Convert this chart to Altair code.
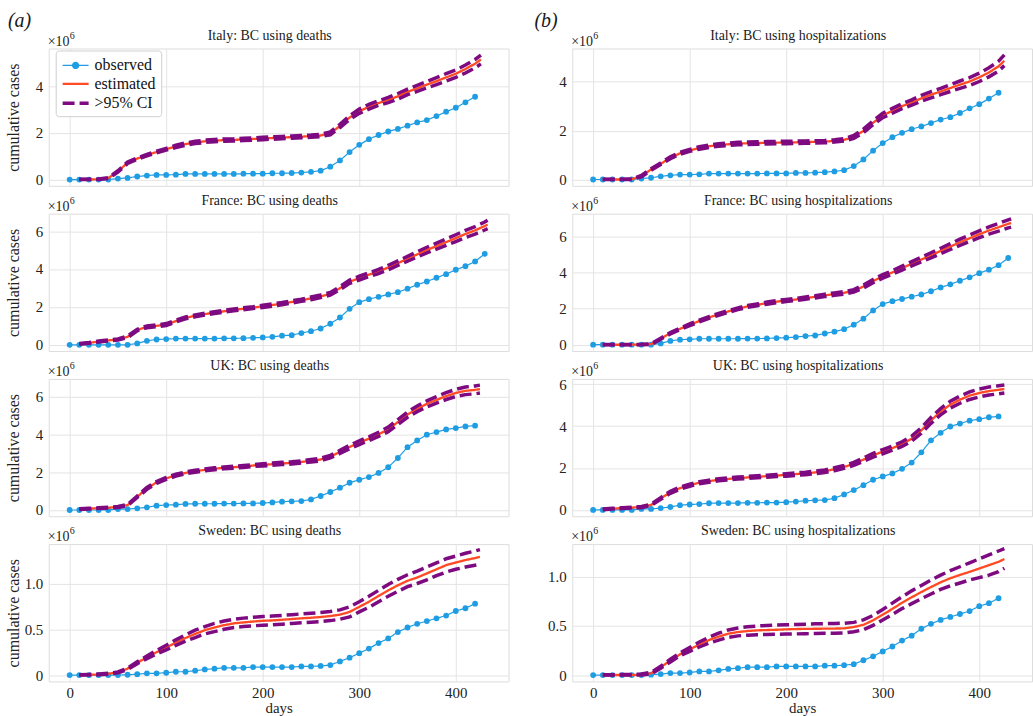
import altair as alt
import pandas as pd

SERIF = "Liberation Serif"
SERIES = ["observed", "estimated", ">95% CI"]
COLORS = ["#1f9de3", "#ff4a24", "#7d0a80"]
DASHES = [[1, 0], [1, 0], [12, 5]]
WIDTHS = [1.2, 3.5, 3.5]
# legend glyphs (unit box scaled by half the symbol width): thin line with a dot, plain strokes
DOT_PATH = "M-1.45,0H1.45M0.34,0A0.34,0.34,0,1,1,-0.34,0A0.34,0.34,0,1,1,0.34,0Z"
LINE_PATH = "M-1.45,0H1.45"
SHAPES = [DOT_PATH, LINE_PATH, LINE_PATH]
X_DOMAIN = [-21.65, 454.65]
X_TICKS = [0, 100, 200, 300, 400]

# Observed cumulative cases (millions), one value every 10 days from day 0
italy_observed = [0.00, 0.00, 0.00, 0.00, 0.00, 0.04, 0.07, 0.13, 0.17, 0.20, 0.20, 0.21, 0.24, 0.24, 0.24,
                  0.24, 0.24, 0.24, 0.25, 0.25, 0.25, 0.27, 0.27, 0.28, 0.30, 0.33, 0.38, 0.55, 0.82, 1.18,
                  1.49, 1.73, 1.91, 2.06, 2.17, 2.31, 2.45, 2.55, 2.72, 2.91, 3.08, 3.31, 3.55]
france_observed = [0, 0, 0, 0, 0, 0, 0, 0.07, 0.21, 0.28, 0.30, 0.33, 0.33, 0.33, 0.33, 0.33, 0.34, 0.34,
                   0.35, 0.37, 0.39, 0.42, 0.48, 0.51, 0.62, 0.72, 0.86, 1.11, 1.44, 1.90, 2.25, 2.41, 2.53,
                   2.66, 2.78, 2.96, 3.17, 3.34, 3.54, 3.73, 3.96, 4.15, 4.40, 4.80]
uk_observed = [0, 0, 0, 0, 0, 0.05, 0.05, 0.09, 0.14, 0.23, 0.26, 0.28, 0.32, 0.33, 0.33, 0.33, 0.34, 0.34,
               0.35, 0.35, 0.37, 0.40, 0.44, 0.46, 0.47, 0.56, 0.74, 0.95, 1.18, 1.44, 1.60, 1.74, 1.96,
               2.26, 2.75, 3.32, 3.68, 3.98, 4.12, 4.26, 4.33, 4.42, 4.46]
sweden_observed = [0, 0, 0, 0, 0, 0, 0.004, 0.01, 0.02, 0.02, 0.026, 0.037, 0.037, 0.048, 0.062, 0.07,
                   0.08, 0.08, 0.08, 0.088, 0.088, 0.088, 0.088, 0.088, 0.095, 0.095, 0.10, 0.11, 0.15,
                   0.19, 0.24, 0.29, 0.35, 0.40, 0.47, 0.52, 0.56, 0.59, 0.62, 0.65, 0.70, 0.73, 0.78]

# Back-calculated (BC) estimates, every 10 days from day 10 plus the last day of the fit
italy_deaths_est = [0.00, 0.00, 0.01, 0.06, 0.35, 0.72, 0.90, 1.05, 1.18, 1.30, 1.42, 1.52, 1.59, 1.64, 1.67,
                    1.69, 1.70, 1.72, 1.74, 1.76, 1.78, 1.80, 1.82, 1.84, 1.86, 1.89, 1.98, 2.30, 2.66, 2.93,
                    3.12, 3.28, 3.41, 3.57, 3.76, 3.91, 4.07, 4.22, 4.38, 4.54, 4.74, 4.97, 5.15]
italy_deaths_lo = [0.00, 0.00, 0.00, 0.04, 0.32, 0.69, 0.87, 1.02, 1.14, 1.26, 1.37, 1.47, 1.54, 1.59, 1.62,
                   1.64, 1.65, 1.67, 1.69, 1.71, 1.73, 1.75, 1.77, 1.79, 1.81, 1.84, 1.92, 2.23, 2.58, 2.84,
                   3.02, 3.18, 3.30, 3.45, 3.64, 3.78, 3.93, 4.07, 4.22, 4.38, 4.57, 4.79, 4.96]
italy_deaths_hi = [0.01, 0.01, 0.02, 0.08, 0.38, 0.75, 0.93, 1.08, 1.22, 1.34, 1.47, 1.57, 1.64, 1.69, 1.72,
                   1.74, 1.75, 1.77, 1.79, 1.81, 1.83, 1.85, 1.87, 1.89, 1.91, 1.94, 2.04, 2.37, 2.74, 3.02,
                   3.22, 3.38, 3.52, 3.69, 3.88, 4.04, 4.21, 4.37, 4.54, 4.70, 4.91, 5.15, 5.34]

france_deaths_est = [0.05, 0.10, 0.17, 0.23, 0.28, 0.42, 0.78, 0.95, 1.00, 1.07, 1.25, 1.42, 1.53, 1.62, 1.70,
                     1.77, 1.84, 1.90, 1.96, 2.03, 2.10, 2.17, 2.26, 2.35, 2.45, 2.56, 2.69, 2.99, 3.33, 3.52,
                     3.70, 3.87, 4.08, 4.31, 4.54, 4.77, 5.00, 5.21, 5.42, 5.63, 5.85, 6.04, 6.27, 6.35]
france_deaths_lo = [0.03, 0.08, 0.14, 0.20, 0.25, 0.38, 0.74, 0.90, 0.95, 1.02, 1.20, 1.37, 1.48, 1.57, 1.65,
                    1.72, 1.79, 1.85, 1.91, 1.97, 2.04, 2.11, 2.20, 2.29, 2.38, 2.49, 2.62, 2.91, 3.24, 3.42,
                    3.60, 3.76, 3.96, 4.19, 4.41, 4.63, 4.85, 5.05, 5.25, 5.45, 5.66, 5.84, 6.06, 6.13]
france_deaths_hi = [0.07, 0.12, 0.20, 0.26, 0.31, 0.46, 0.82, 1.00, 1.05, 1.12, 1.30, 1.47, 1.58, 1.67, 1.75,
                    1.82, 1.89, 1.95, 2.01, 2.09, 2.16, 2.23, 2.32, 2.41, 2.52, 2.63, 2.76, 3.07, 3.42, 3.62,
                    3.80, 3.98, 4.20, 4.43, 4.67, 4.91, 5.15, 5.37, 5.59, 5.81, 6.04, 6.24, 6.48, 6.57]

uk_deaths_est = [0.04, 0.07, 0.10, 0.12, 0.16, 0.26, 0.70, 1.14, 1.46, 1.67, 1.84, 1.96, 2.05, 2.12, 2.18,
                 2.23, 2.26, 2.30, 2.35, 2.39, 2.42, 2.46, 2.49, 2.54, 2.60, 2.67, 2.82, 3.07, 3.33, 3.56,
                 3.77, 4.00, 4.26, 4.65, 5.04, 5.35, 5.61, 5.82, 6.02, 6.19, 6.30, 6.35, 6.39]
uk_deaths_lo = [0.02, 0.05, 0.08, 0.10, 0.13, 0.23, 0.66, 1.09, 1.41, 1.62, 1.79, 1.91, 2.00, 2.07, 2.13,
                2.18, 2.21, 2.25, 2.30, 2.33, 2.36, 2.40, 2.43, 2.48, 2.53, 2.60, 2.75, 2.99, 3.24, 3.46,
                3.67, 3.89, 4.14, 4.52, 4.90, 5.20, 5.45, 5.65, 5.84, 6.00, 6.10, 6.14, 6.18]
uk_deaths_hi = [0.06, 0.09, 0.12, 0.14, 0.19, 0.29, 0.74, 1.19, 1.51, 1.72, 1.89, 2.01, 2.10, 2.17, 2.23,
                2.28, 2.31, 2.35, 2.40, 2.45, 2.48, 2.52, 2.55, 2.60, 2.67, 2.74, 2.89, 3.15, 3.42, 3.66,
                3.87, 4.11, 4.38, 4.78, 5.18, 5.50, 5.77, 5.99, 6.20, 6.38, 6.50, 6.56, 6.60]

sweden_deaths_est = [0.000, 0.004, 0.007, 0.015, 0.03, 0.07, 0.135, 0.195, 0.25, 0.30, 0.355, 0.405, 0.45,
                     0.49, 0.52, 0.545, 0.565, 0.575, 0.585, 0.593, 0.597, 0.604, 0.612, 0.62, 0.626, 0.634,
                     0.645, 0.66, 0.69, 0.745, 0.80, 0.865, 0.925, 0.98, 1.03, 1.065, 1.11, 1.155, 1.20,
                     1.23, 1.256, 1.278, 1.29]
sweden_deaths_lo = [0.0, 0.0, 0.003, 0.01, 0.025, 0.062, 0.125, 0.18, 0.23, 0.275, 0.325, 0.37, 0.41, 0.45,
                    0.475, 0.5, 0.52, 0.53, 0.538, 0.545, 0.55, 0.556, 0.564, 0.572, 0.578, 0.585, 0.595,
                    0.61, 0.635, 0.69, 0.74, 0.80, 0.86, 0.915, 0.965, 1.0, 1.04, 1.085, 1.125, 1.155,
                    1.18, 1.20, 1.21]
sweden_deaths_hi = [0.004, 0.008, 0.012, 0.02, 0.035, 0.078, 0.145, 0.21, 0.27, 0.325, 0.385, 0.44, 0.49,
                    0.53, 0.565, 0.59, 0.61, 0.622, 0.632, 0.64, 0.645, 0.652, 0.66, 0.668, 0.675, 0.684,
                    0.695, 0.712, 0.745, 0.80, 0.86, 0.925, 0.99, 1.045, 1.095, 1.135, 1.18, 1.225, 1.27,
                    1.30, 1.33, 1.355, 1.37]

italy_hosp_est = [0.00, 0.00, 0.00, 0.01, 0.14, 0.41, 0.64, 0.89, 1.07, 1.19, 1.29, 1.36, 1.41, 1.44, 1.47,
                  1.48, 1.49, 1.50, 1.51, 1.51, 1.52, 1.53, 1.54, 1.55, 1.58, 1.62, 1.74, 1.99, 2.32, 2.62,
                  2.81, 3.00, 3.15, 3.32, 3.47, 3.60, 3.74, 3.88, 4.01, 4.18, 4.38, 4.63, 4.86]
italy_hosp_lo = [0.00, 0.00, 0.00, 0.00, 0.11, 0.38, 0.61, 0.85, 1.03, 1.15, 1.24, 1.31, 1.36, 1.39, 1.42,
                 1.43, 1.44, 1.45, 1.46, 1.46, 1.47, 1.48, 1.49, 1.50, 1.53, 1.57, 1.68, 1.92, 2.24, 2.53,
                 2.71, 2.90, 3.04, 3.20, 3.34, 3.47, 3.60, 3.73, 3.85, 4.01, 4.20, 4.44, 4.66]
italy_hosp_hi = [0.01, 0.01, 0.01, 0.02, 0.17, 0.44, 0.67, 0.93, 1.11, 1.23, 1.34, 1.41, 1.46, 1.49, 1.52,
                 1.53, 1.54, 1.55, 1.56, 1.56, 1.57, 1.58, 1.59, 1.60, 1.63, 1.67, 1.80, 2.06, 2.40, 2.71,
                 2.91, 3.10, 3.26, 3.44, 3.60, 3.73, 3.88, 4.03, 4.17, 4.35, 4.57, 4.84, 5.10]

france_hosp_est = [0.00, 0.00, 0.00, 0.00, 0.01, 0.03, 0.33, 0.64, 0.88, 1.10, 1.31, 1.51, 1.68, 1.84, 1.99,
                   2.12, 2.21, 2.30, 2.38, 2.45, 2.50, 2.58, 2.65, 2.73, 2.80, 2.87, 2.98, 3.22, 3.52, 3.78,
                   4.00, 4.24, 4.48, 4.71, 4.95, 5.19, 5.43, 5.67, 5.89, 6.11, 6.32, 6.50, 6.69, 6.74]
france_hosp_lo = [0.00, 0.00, 0.00, 0.00, 0.00, 0.01, 0.30, 0.60, 0.84, 1.05, 1.26, 1.46, 1.63, 1.79, 1.94,
                  2.07, 2.16, 2.24, 2.32, 2.39, 2.44, 2.52, 2.59, 2.66, 2.73, 2.80, 2.91, 3.14, 3.43, 3.68,
                  3.90, 4.13, 4.36, 4.58, 4.81, 5.04, 5.27, 5.50, 5.71, 5.92, 6.12, 6.29, 6.47, 6.51]
france_hosp_hi = [0.01, 0.01, 0.01, 0.01, 0.02, 0.05, 0.36, 0.68, 0.92, 1.15, 1.36, 1.56, 1.73, 1.89, 2.04,
                  2.17, 2.26, 2.36, 2.44, 2.51, 2.56, 2.64, 2.71, 2.80, 2.87, 2.94, 3.05, 3.30, 3.61, 3.88,
                  4.10, 4.35, 4.60, 4.84, 5.09, 5.34, 5.59, 5.84, 6.07, 6.30, 6.52, 6.71, 6.91, 6.97]

uk_hosp_est = [0.03, 0.06, 0.09, 0.11, 0.14, 0.24, 0.55, 0.84, 1.04, 1.18, 1.30, 1.37, 1.44, 1.48, 1.52,
               1.55, 1.58, 1.61, 1.64, 1.67, 1.71, 1.74, 1.79, 1.85, 1.94, 2.05, 2.20, 2.40, 2.61, 2.78,
               2.95, 3.14, 3.40, 3.79, 4.27, 4.69, 5.02, 5.26, 5.45, 5.58, 5.67, 5.73, 5.77]
uk_hosp_lo = [0.01, 0.04, 0.07, 0.09, 0.11, 0.21, 0.51, 0.79, 0.99, 1.13, 1.25, 1.32, 1.39, 1.43, 1.47,
              1.50, 1.53, 1.56, 1.59, 1.61, 1.65, 1.68, 1.73, 1.79, 1.87, 1.98, 2.13, 2.32, 2.52, 2.68,
              2.85, 3.03, 3.28, 3.66, 4.13, 4.54, 4.86, 5.09, 5.27, 5.39, 5.48, 5.54, 5.58]
uk_hosp_hi = [0.05, 0.08, 0.11, 0.13, 0.17, 0.27, 0.59, 0.89, 1.09, 1.23, 1.35, 1.42, 1.49, 1.53, 1.57,
              1.60, 1.63, 1.66, 1.69, 1.73, 1.77, 1.80, 1.85, 1.91, 2.01, 2.12, 2.27, 2.48, 2.70, 2.88,
              3.05, 3.25, 3.52, 3.92, 4.41, 4.84, 5.18, 5.43, 5.63, 5.77, 5.86, 5.92, 5.96]

sweden_hosp_est = [0.000, 0.000, 0.000, 0.000, 0.002, 0.017, 0.08, 0.147, 0.21, 0.26, 0.31, 0.355, 0.39, 0.42,
                   0.437, 0.447, 0.454, 0.457, 0.46, 0.464, 0.467, 0.469, 0.47, 0.471, 0.472, 0.474, 0.488,
                   0.51, 0.556, 0.614, 0.672, 0.734, 0.79, 0.843, 0.894, 0.942, 0.983, 1.017, 1.048,
                   1.082, 1.116, 1.15, 1.178]
sweden_hosp_lo = [0, 0, 0, 0, 0, 0.01, 0.07, 0.133, 0.195, 0.24, 0.285, 0.325, 0.355, 0.383, 0.398, 0.405,
                  0.41, 0.412, 0.414, 0.416, 0.418, 0.42, 0.422, 0.424, 0.425, 0.427, 0.44, 0.46, 0.505,
                  0.56, 0.615, 0.675, 0.725, 0.775, 0.823, 0.87, 0.906, 0.935, 0.965, 0.99, 1.015, 1.05,
                  1.085]
sweden_hosp_hi = [0.003, 0.004, 0.005, 0.006, 0.01, 0.027, 0.09, 0.16, 0.225, 0.28, 0.335, 0.385, 0.425,
                  0.458, 0.478, 0.49, 0.498, 0.503, 0.507, 0.51, 0.514, 0.517, 0.52, 0.522, 0.524, 0.526,
                  0.535, 0.56, 0.605, 0.665, 0.73, 0.795, 0.855, 0.91, 0.965, 1.015, 1.06, 1.1, 1.14,
                  1.18, 1.22, 1.26, 1.285]

INT_FMT = "datum.value == 0 ? '0' : format(datum.value, 'd')"
DEC_FMT = "datum.value == 0 ? '0' : format(datum.value, '.1f')"

COLUMN_A = [
    dict(title="Italy: BC using deaths", obs=italy_observed, est=italy_deaths_est, lo=italy_deaths_lo,
         hi=italy_deaths_hi, end=426, ydom=[-0.27, 5.62], yticks=[0, 2, 4], fmt=INT_FMT),
    dict(title="France: BC using deaths", obs=france_observed, est=france_deaths_est, lo=france_deaths_lo,
         hi=france_deaths_hi, end=433, ydom=[-0.33, 6.92], yticks=[0, 2, 4, 6], fmt=INT_FMT),
    dict(title="UK: BC using deaths", obs=uk_observed, est=uk_deaths_est, lo=uk_deaths_lo,
         hi=uk_deaths_hi, end=425, ydom=[-0.33, 6.93], yticks=[0, 2, 4, 6], fmt=INT_FMT),
    dict(title="Sweden: BC using deaths", obs=sweden_observed, est=sweden_deaths_est, lo=sweden_deaths_lo,
         hi=sweden_deaths_hi, end=425, ydom=[-0.069, 1.43], yticks=[0, 0.5, 1.0], fmt=DEC_FMT),
]
COLUMN_B = [
    dict(title="Italy: BC using hospitalizations", obs=italy_observed, est=italy_hosp_est, lo=italy_hosp_lo,
         hi=italy_hosp_hi, end=426, ydom=[-0.26, 5.36], yticks=[0, 2, 4], fmt=INT_FMT),
    dict(title="France: BC using hospitalizations", obs=france_observed, est=france_hosp_est,
         lo=france_hosp_lo, hi=france_hosp_hi, end=433, ydom=[-0.35, 7.25], yticks=[0, 2, 4, 6], fmt=INT_FMT),
    dict(title="UK: BC using hospitalizations", obs=uk_observed, est=uk_hosp_est, lo=uk_hosp_lo,
         hi=uk_hosp_hi, end=426, ydom=[-0.3, 6.25], yticks=[0, 2, 4, 6], fmt=INT_FMT),
    dict(title="Sweden: BC using hospitalizations", obs=sweden_observed, est=sweden_hosp_est,
         lo=sweden_hosp_lo, hi=sweden_hosp_hi, end=426, ydom=[-0.065, 1.33], yticks=[0, 0.5, 1.0],
         fmt=DEC_FMT),
]

PLOT_W = 462
PLOT_H = 138

LEGEND = alt.Legend(
    title=None, orient="none", legendX=7, legendY=2,
    fillColor="white", strokeColor="#cfcfcf", cornerRadius=3, padding=5,
    labelFont=SERIF, labelFontSize=16, labelColor="#111", labelOffset=8,
    symbolSize=324, symbolOffset=4, rowPadding=0,
)
COLOR_SCALE = alt.Scale(domain=SERIES, range=COLORS)
DASH_SCALE = alt.Scale(domain=SERIES, range=DASHES)
WIDTH_SCALE = alt.Scale(domain=SERIES, range=WIDTHS)
SHAPE_SCALE = alt.Scale(domain=SERIES, range=SHAPES)


def frames(spec):
    obs_days = list(range(0, 10 * len(spec["obs"]), 10))
    n = len(spec["est"])
    est_days = list(range(10, 10 * n, 10)) + [spec["end"]]
    obs = pd.DataFrame({"day": obs_days, "value": spec["obs"], "series": "observed", "bound": "obs"})
    est = pd.DataFrame({"day": est_days, "value": spec["est"], "series": "estimated", "bound": "mid"})
    ci = pd.concat([
        pd.DataFrame({"day": est_days, "value": spec["lo"], "series": ">95% CI", "bound": "lower"}),
        pd.DataFrame({"day": est_days, "value": spec["hi"], "series": ">95% CI", "bound": "upper"}),
    ])
    return obs, est, ci


def label(text, x, y, size, align="left", style="normal"):
    return alt.Chart(pd.DataFrame({"t": [text]})).mark_text(
        align=align, baseline="alphabetic", font=SERIF, fontSize=size, fontStyle=style, color="#1a1a1a"
    ).encode(x=alt.value(x), y=alt.value(y), text="t:N")


def panel(spec, col, row):
    bottom = row == 3
    obs, est, ci = frames(spec)
    x_axis = alt.Axis(values=X_TICKS, labels=bottom, title="days" if bottom else None,
                      labelPadding=4, titlePadding=0, labelFontSize=15, titleFontSize=15)
    y_axis = alt.Axis(values=spec["yticks"], labelExpr=spec["fmt"], labelPadding=6, labelFontSize=15,
                      title="cumulative cases" if col == 0 else None, titleFontSize=16, titleX=-27)
    x = alt.X("day:Q", scale=alt.Scale(domain=X_DOMAIN, nice=False, zero=False), axis=x_axis)
    y = alt.Y("value:Q", scale=alt.Scale(domain=spec["ydom"], nice=False, zero=False), axis=y_axis)
    color = alt.Color("series:N", scale=COLOR_SCALE, legend=LEGEND)
    dash = alt.StrokeDash("series:N", scale=DASH_SCALE, legend=LEGEND)
    stroke_w = alt.StrokeWidth("series:N", scale=WIDTH_SCALE, legend=LEGEND)
    shape = alt.Shape("series:N", scale=SHAPE_SCALE, legend=LEGEND)

    obs_line = alt.Chart(obs).mark_line().encode(
        x=x, y=y, color=color, strokeDash=dash, strokeWidth=stroke_w)
    obs_pts = alt.Chart(obs).mark_circle(size=34, opacity=1).encode(x="day:Q", y="value:Q", color=color)
    est_line = alt.Chart(est).mark_line().encode(
        x="day:Q", y="value:Q", color=color, strokeDash=dash, strokeWidth=stroke_w)
    ci_lines = alt.Chart(ci).mark_line().encode(
        x="day:Q", y="value:Q", color=color, strokeDash=dash, strokeWidth=stroke_w, detail="bound:N")
    # carries the legend glyph shapes only; it has no rows of its own
    key = alt.Chart(obs.iloc[0:0]).mark_point(filled=True, opacity=1).encode(
        x="day:Q", y="value:Q", color=color, shape=shape)

    layers = [obs_line, obs_pts, est_line, ci_lines, key,
              label(spec["title"], PLOT_W / 2 + (-9 if col == 0 else -4), -9, 14, align="center"),
              label("×10", -1, -3, 14),
              label("6", 21, -10, 10)]
    if row == 0:
        layers.append(label("(a)" if col == 0 else "(b)", -41 if col == 0 else -38, -22, 20, style="italic"))

    return alt.layer(*layers).properties(width=PLOT_W, height=PLOT_H)


cells = []
for i in range(4):
    cells.append(panel(COLUMN_A[i], 0, i))
    cells.append(panel(COLUMN_B[i], 1, i))

chart = alt.concat(*cells, columns=2, spacing={"row": 28, "column": 64}, bounds="flush").properties(
    background="white", padding={"left": 5, "top": 8, "right": 0, "bottom": 0}
).configure_view(
    stroke="#dddddd", strokeWidth=1
).configure_axis(
    gridColor="#e4e4e4", gridWidth=1, ticks=False, domain=False,
    labelFont=SERIF, titleFont=SERIF, labelColor="#222", titleColor="#222", titleFontWeight="normal"
)

chart.save("out.html", embed_options={"renderer": "svg", "actions": False})
